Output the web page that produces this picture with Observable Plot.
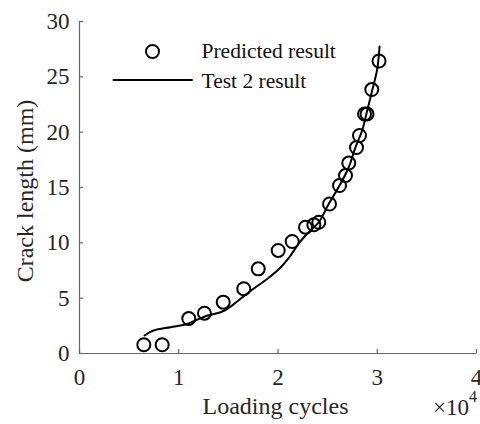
<!DOCTYPE html>
<html>
<head>
<meta charset="utf-8">
<script src="https://cdn.jsdelivr.net/npm/d3@7"></script>
<script src="https://cdn.jsdelivr.net/npm/@observablehq/plot@0.6"></script>
<style>
  html, body { margin: 0; padding: 0; background: #fff; }
  #chart { width: 480px; height: 424px; }
  #chart svg, #chart svg text, #chart svg tspan {
    font-family: "Liberation Serif", "DejaVu Serif", "Times New Roman", serif !important;
  }
</style>
</head>
<body>
<div id="chart"></div>
<script>
// Predicted result (loading cycles in ×10^4, crack length in mm)
const predX = [0.648, 0.833, 1.101, 1.259, 1.448, 1.655, 1.801, 2.002, 2.143, 2.277, 2.361, 2.411, 2.519, 2.620, 2.680, 2.713, 2.791, 2.821, 2.872, 2.897, 2.945, 3.018];
const predY = [0.79, 0.79, 3.16, 3.64, 4.64, 5.85, 7.65, 9.31, 10.12, 11.41, 11.63, 11.86, 13.51, 15.18, 16.08, 17.21, 18.61, 19.70, 21.64, 21.64, 23.85, 26.43];
// Test 2 result
const testX = [0.655, 0.746, 0.917, 1.068, 1.169, 1.290, 1.421, 1.491, 1.622, 1.753, 1.894, 2.025, 2.126, 2.207, 2.277, 2.345, 2.411, 2.512, 2.630, 2.713, 2.781, 2.848, 2.899, 2.949, 3.000, 3.023];
const testY = [1.63, 2.08, 2.38, 2.62, 2.98, 3.43, 3.73, 4.04, 4.94, 5.85, 6.75, 7.77, 8.85, 9.91, 10.66, 11.27, 11.86, 13.53, 15.33, 16.83, 18.64, 20.15, 21.96, 23.76, 25.72, 27.74];
const xTicks = [0, 1, 2, 3, 4];
const yTicks = [0, 5, 10, 15, 20, 25, 30];
const seriesNames = ["Predicted result", "Test 2 result"];
const xLabel = "Loading cycles";
const yLabel = "Crack length (mm)";

const pred = predX.map((x, i) => ({x, y: predY[i]}));
const test = testX.map((x, i) => ({x, y: testY[i]}));

const font = "Liberation Serif";
const axisColor = "#666";
const textColor = "#262626";
const W = 480, H = 424, mL = 79, mR = 4, mT = 21, mB = 71;

const chart = Plot.plot({
  width: W, height: H,
  marginLeft: mL, marginRight: mR, marginTop: mT, marginBottom: mB,
  x: {domain: [0, 4]},
  y: {domain: [0, 30]},
  style: {fontFamily: font, background: "#fff", overflow: "visible"},
  marks: [
    Plot.ruleX([0], {stroke: axisColor, strokeWidth: 1.2}),
    Plot.ruleY([0], {stroke: axisColor, strokeWidth: 1.2}),
    Plot.tickX(xTicks, {x: d => d, insetTop: (H - mT - mB) - 4, stroke: axisColor, strokeWidth: 1.2}),
    Plot.tickY(yTicks, {y: d => d, insetRight: (W - mL - mR) - 4, stroke: axisColor, strokeWidth: 1.2}),
    Plot.axisX(xTicks, {tickSize: 0, tickPadding: 15, fontSize: 23, fill: textColor, label: null}),
    Plot.axisY(yTicks, {tickSize: 0, tickPadding: 10, fontSize: 23, fill: textColor, label: null}),
    Plot.line(test, {x: "x", y: "y", stroke: "#000", strokeWidth: 2, curve: "catmull-rom"}),
    Plot.dot(pred, {x: "x", y: "y", r: 6.5, stroke: "#000", strokeWidth: 2, fill: "none"}),
    // legend
    Plot.dot([seriesNames[0]], {frameAnchor: "top-left", dx: 73, dy: 30, r: 6.5, stroke: "#000", strokeWidth: 2, fill: "none"}),
    Plot.text([seriesNames[0]], {text: d => d, frameAnchor: "top-left", dx: 122, dy: 29.7, textAnchor: "start", lineAnchor: "middle", fontSize: 21.5, fill: "#111"}),
    Plot.text([seriesNames[1]], {text: d => d, frameAnchor: "top-left", dx: 122, dy: 59.6, textAnchor: "start", lineAnchor: "middle", fontSize: 21.5, fill: "#111"})
  ]
});

const svg = d3.select(chart);
// legend line sample
svg.append("line")
  .attr("x1", 112.7).attr("x2", 192.7).attr("y1", 80).attr("y2", 80)
  .attr("stroke", "#000").attr("stroke-width", 2);
// axis titles
svg.append("text")
  .attr("transform", "translate(275.5,414)")
  .attr("text-anchor", "middle")
  .attr("font-size", 24)
  .attr("fill", textColor)
  .text(xLabel);
svg.append("text")
  .attr("transform", "translate(33,191) rotate(-90)")
  .attr("text-anchor", "middle")
  .attr("font-size", 24)
  .attr("fill", textColor)
  .text(yLabel);
// exponent label
const exp = svg.append("text")
  .attr("x", 477).attr("y", 415)
  .attr("text-anchor", "end")
  .attr("font-size", 23)
  .attr("fill", textColor);
exp.append("tspan").text("×10");
exp.append("tspan").attr("font-size", 16).attr("dy", -13).text("4");

document.getElementById("chart").appendChild(chart);
</script>
</body>
</html>
